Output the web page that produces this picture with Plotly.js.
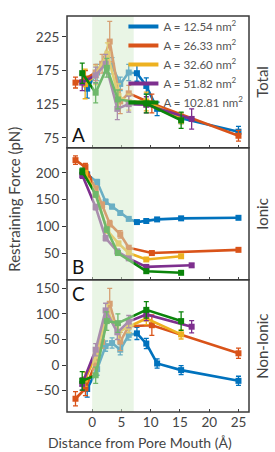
<!DOCTYPE html>
<html>
<head>
<meta charset="utf-8">
<script src="https://cdn.plot.ly/plotly-3.0.1.min.js"></script>
<style>html,body{margin:0;padding:0;background:#fff;}#chart{width:275px;height:452px;}</style>
</head>
<body>
<div id="chart"></div>
<script>
// ---- data ----
const seriesNames = ['A = 12.54 nm<sup>2</sup>', 'A = 26.33 nm<sup>2</sup>', 'A = 32.60 nm<sup>2</sup>', 'A = 51.82 nm<sup>2</sup>', 'A = 102.81 nm<sup>2</sup>'];
const panelLabels = ['Total', 'Ionic', 'Non-Ionic'];

const xBlue = [-0.85, 0.85, 2.3, 3.4, 4.8, 6.25, 7.65, 9.25, 11.1, 15.2, 25];
const totalBlue = [148, 172, 184, 182, 155, 172, 171, 152, 118, 104, 84];
const totalBlueErr = [14, 12, 12, 12, 10, 12, 12, 12, 10, 8, 8];
const ionicBlue = [197, 183, 146, 137, 125, 114, 108, 110, 113, 115, 116];
const ionicBlueErr = [5, 5, 5, 4, 3, 3, 3, 3, 3, 3, 3];
const nonBlue = [-47, -8, 37, 43, 30, 59, 62, 42, 3, -10, -31];
const nonBlueErr = [16, 12, 10, 10, 10, 10, 12, 10, 9, 9, 9];

const xOrange = [-2.85, -1.15, 0.6, 1.7, 3.0, 4.8, 6.25, 10.2, 25];
const totalOrange = [157, 163, 172, 185, 218, 129, 141, 126, 78];
const totalOrangeErr = [8, 12, 12, 14, 30, 18, 12, 14, 8];
const ionicOrange = [224, 211, 170, 140, 105, 85, 60, 50, 56];
const ionicOrangeErr = [8, 7, 6, 6, 6, 7, 3, 3, 3];
const nonOrange = [-66, -46, 5, 45, 120, 46, 76, 78, 23];
const nonOrangeErr = [14, 14, 12, 12, 30, 18, 12, 20, 10];

const xYellow = [-1.2, 0.6, 2.6, 4.5, 6.25, 9.25, 15.2];
const totalYellow = [155, 168, 200, 137, 128, 129, 104];
const totalYellowErr = [22, 14, 16, 18, 12, 14, 8];
const ionicYellow = [200, 160, 92, 68, 50, 38, 44];
const ionicYellowErr = [5, 5, 5, 4, 3, 3, 3];
const nonYellow = [-28, 18, 105, 65, 75, 91, 60];
const nonYellowErr = [14, 12, 14, 14, 12, 12, 9];

const xPurple = [-1.7, 0.6, 2.3, 4.3, 6.25, 9.25, 17.0];
const totalPurple = [157, 168, 185, 118, 125, 124, 103];
const totalPurpleErr = [12, 12, 14, 16, 12, 12, 15];
const ionicPurple = [196, 136, 78, 53, 40, 24, 27];
const ionicPurpleErr = [6, 5, 5, 4, 3, 3, 3];
const nonPurple = [-37, 30, 107, 64, 85, 99, 75];
const nonPurpleErr = [12, 12, 14, 14, 12, 12, 12];

const xGreen = [-1.7, 0.6, 2.5, 4.4, 9.25, 15.2];
const totalGreen = [171, 142, 179, 132, 126, 101];
const totalGreenErr = [15, 15, 14, 14, 14, 12];
const ionicGreen = [203, 160, 94, 50, 16, 13];
const ionicGreenErr = [6, 5, 5, 4, 3, 3];
const nonGreen = [-31, -20, 86, 82, 108, 86];
const nonGreenErr = [18, 16, 18, 18, 16, 18];

const xTicks = [0, 5, 10, 15, 20, 25];
const yTicksTotal = [75, 125, 175, 225];
const yTicksIonic = [50, 100, 150, 200];
const yTicksNon = [-50, 0, 50, 100, 150];

// ---- build ----
const colors = ['#0072BD', '#D95319', '#EDB120', '#7E2F8E', '#0B840B'];
const xs = [xBlue, xOrange, xYellow, xPurple, xGreen];
const tot = [totalBlue, totalOrange, totalYellow, totalPurple, totalGreen];
const totE = [totalBlueErr, totalOrangeErr, totalYellowErr, totalPurpleErr, totalGreenErr];
const ion = [ionicBlue, ionicOrange, ionicYellow, ionicPurple, ionicGreen];
const ionE = [ionicBlueErr, ionicOrangeErr, ionicYellowErr, ionicPurpleErr, ionicGreenErr];
const non = [nonBlue, nonOrange, nonYellow, nonPurple, nonGreen];
const nonE = [nonBlueErr, nonOrangeErr, nonYellowErr, nonPurpleErr, nonGreenErr];

const panels = [
  {ys: tot, es: totE, xa: 'x3', ya: 'y'},
  {ys: ion, es: ionE, xa: 'x2', ya: 'y2'},
  {ys: non, es: nonE, xa: 'x', ya: 'y3'}
];

const traces = [];
panels.forEach(p => {
  for (let i = 0; i < 5; i++) {
    traces.push({
      type: 'scatter', mode: 'lines+markers',
      x: xs[i], y: p.ys[i],
      xaxis: p.xa, yaxis: p.ya,
      name: seriesNames[i], showlegend: false, legendgroup: 's' + i,
      line: {color: colors[i], width: 2.6},
      marker: {color: colors[i], symbol: 'square', size: 6},
      error_y: {type: 'data', array: p.es[i], visible: true, color: colors[i], thickness: 1.3, width: 2.5},
      cliponaxis: false
    });
  }
});
// legend entries (line swatches only)
for (let i = 0; i < 5; i++) {
  traces.push({type: 'scatter', mode: 'lines', x: [null], y: [null], xaxis: 'x3', yaxis: 'y',
    name: seriesNames[i], showlegend: true, legendgroup: 's' + i,
    line: {color: colors[i], width: 4}});
}

const fnt = 'Lato, "Open Sans", sans-serif';
const tickFont = {family: fnt, size: 13.5, color: '#444'};
const xr = [-4.3, 26.8];
const xBase = {range: xr, tickvals: xTicks, showgrid: false, zeroline: false, showline: false,
  ticks: 'inside', ticklen: 3, tickcolor: '#444', tickfont: tickFont};
const yBase = {showgrid: false, zeroline: false, showline: false, ticks: 'outside', ticklen: 4,
  tickcolor: '#333', tickfont: tickFont};

const shapes = [];
const yrefs = ['y', 'y2', 'y3'];
const xrefs = ['x3', 'x2', 'x'];
for (let k = 0; k < 3; k++) {
  shapes.push({type: 'rect', xref: xrefs[k], yref: yrefs[k] + ' domain', x0: 0, x1: 7.1, y0: 0, y1: 1,
    fillcolor: 'rgba(212,236,204,0.5)', line: {width: 0}, layer: 'above'});
}
for (let k = 0; k < 3; k++) {
  shapes.push({type: 'rect', xref: 'paper', yref: yrefs[k] + ' domain', x0: 0, x1: 1, y0: 0, y1: 1,
    fillcolor: 'rgba(0,0,0,0)', line: {width: 1.5, color: '#3a3a3a'}, layer: 'above'});
}

const ann = [
  {text: 'Restraining Force (pN)', xref: 'paper', yref: 'paper', x: -0.289, y: 0.537, textangle: -90,
    showarrow: false, font: {family: fnt, size: 15, color: '#444'}, xanchor: 'center', yanchor: 'middle'},
  {text: 'Distance from Pore Mouth (Å)', xref: 'paper', yref: 'paper', x: 0.40, y: -0.0765, borderpad: 0,
    showarrow: false, font: {family: fnt, size: 14, color: '#444'}, xanchor: 'center', yanchor: 'middle'},
  {text: 'A', xref: 'paper', yref: 'y domain', x: 0.015, y: 0.0, xanchor: 'left', yanchor: 'bottom',
    showarrow: false, font: {family: fnt, size: 19, color: '#111'}},
  {text: 'B', xref: 'paper', yref: 'y2 domain', x: 0.015, y: 0.0, xanchor: 'left', yanchor: 'bottom',
    showarrow: false, font: {family: fnt, size: 19, color: '#111'}},
  {text: 'C', xref: 'paper', yref: 'y3 domain', x: 0.015, y: 1.0, xanchor: 'left', yanchor: 'top',
    showarrow: false, font: {family: fnt, size: 19, color: '#111'}}
];
for (let k = 0; k < 3; k++) {
  ann.push({text: panelLabels[k], xref: 'paper', yref: yrefs[k] + ' domain', x: 1.071, y: 0.5, textangle: -90,
    showarrow: false, xanchor: 'center', yanchor: 'middle', font: {family: fnt, size: 15, color: '#444'}});
}

const layout = {
  width: 275, height: 452,
  margin: {l: 66.7, r: 26, t: 11.7, b: 40.3, pad: 0},
  paper_bgcolor: '#fff', plot_bgcolor: '#fff',
  font: {family: fnt, color: '#444'},
  showlegend: true,
  legend: {x: 0.31, y: 1.01, xanchor: 'left', yanchor: 'top', bgcolor: 'rgba(0,0,0,0)',
    font: {family: fnt, size: 11.5, color: '#555'}, tracegroupgap: 0, itemwidth: 30},
  xaxis: Object.assign({}, xBase, {anchor: 'y3', ticklabelstandoff: 0}),
  xaxis2: Object.assign({}, xBase, {anchor: 'y2', matches: 'x', showticklabels: false}),
  xaxis3: Object.assign({}, xBase, {anchor: 'y', matches: 'x', showticklabels: false}),
  yaxis: Object.assign({}, yBase, {domain: [0.667, 1], range: [60, 256], tickvals: yTicksTotal, anchor: 'x3'}),
  yaxis2: Object.assign({}, yBase, {domain: [0.334, 0.667], range: [0, 247], tickvals: yTicksIonic, anchor: 'x2'}),
  yaxis3: Object.assign({}, yBase, {domain: [0, 0.334], range: [-92, 167], tickvals: yTicksNon, anchor: 'x'}),
  shapes: shapes,
  annotations: ann
};

Plotly.newPlot('chart', traces, layout, {displayModeBar: false, staticPlot: true});
</script>
</body>
</html>
